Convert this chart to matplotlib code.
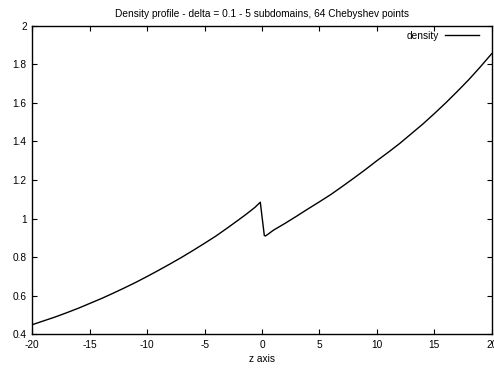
import matplotlib
matplotlib.use('Agg')
import matplotlib.pyplot as plt
from matplotlib.ticker import FuncFormatter

plt.rcParams['font.family'] = 'Liberation Sans'
plt.rcParams['axes.unicode_minus'] = False

# density left of the interface
z_left = [-20, -19, -18, -17, -16, -15, -14, -13, -12, -11, -10, -9, -8, -7,
          -6, -5, -4, -3, -2, -1.5, -1, -0.6, -0.15]
rho_left = [0.450, 0.470, 0.490, 0.512, 0.535, 0.560, 0.585, 0.612, 0.640,
            0.669, 0.700, 0.732, 0.765, 0.799, 0.835, 0.872, 0.910, 0.952,
            0.995, 1.017, 1.040, 1.059, 1.085]

# density right of the interface
z_right = [0.2, 0.3, 0.5, 1, 2, 3, 4, 5, 6, 7, 8, 9, 10, 11, 12, 13, 14,
           15, 16, 17, 18, 19, 20]
rho_right = [0.912, 0.910, 0.918, 0.940, 0.975, 1.012, 1.050, 1.087, 1.125,
             1.167, 1.210, 1.254, 1.300, 1.344, 1.390, 1.440, 1.490, 1.544,
             1.600, 1.659, 1.720, 1.786, 1.855]

z = z_left + z_right
rho = rho_left + rho_right

xticks = [-20, -15, -10, -5, 0, 5, 10, 15, 20]
yticks = [0.4, 0.6, 0.8, 1, 1.2, 1.4, 1.6, 1.8, 2]

fig = plt.figure(figsize=(4.94, 3.69), dpi=100)
ax = fig.add_axes([0.0654, 0.094, 0.930, 0.8364])

ax.plot(z, rho, color='black', lw=1.0, label='density')

ax.set_xlim(-20, 20)
ax.set_ylim(0.4, 2)
ax.set_xticks(xticks)
ax.set_yticks(yticks)
fmt = FuncFormatter(lambda v, p: '%g' % v)
ax.xaxis.set_major_formatter(fmt)
ax.yaxis.set_major_formatter(fmt)
ax.tick_params(direction='in', length=3.5, width=0.8, labelsize=7.3,
               top=True, right=True, pad=4, colors='black')
for s in ax.spines.values():
    s.set_linewidth(1.0)

ax.set_xlabel('z axis', fontsize=7.3, labelpad=3)
ax.set_title('Density profile - delta = 0.1 - 5 subdomains, 64 Chebyshev points',
             fontsize=7.3, pad=6)
ax.legend(loc='upper right', frameon=False, markerfirst=False, fontsize=7.3,
          handlelength=3.3, handletextpad=0.6, borderaxespad=0.2,
          borderpad=0.3, bbox_to_anchor=(0.983, 1.0))

fig.savefig('out.png', dpi=100)
